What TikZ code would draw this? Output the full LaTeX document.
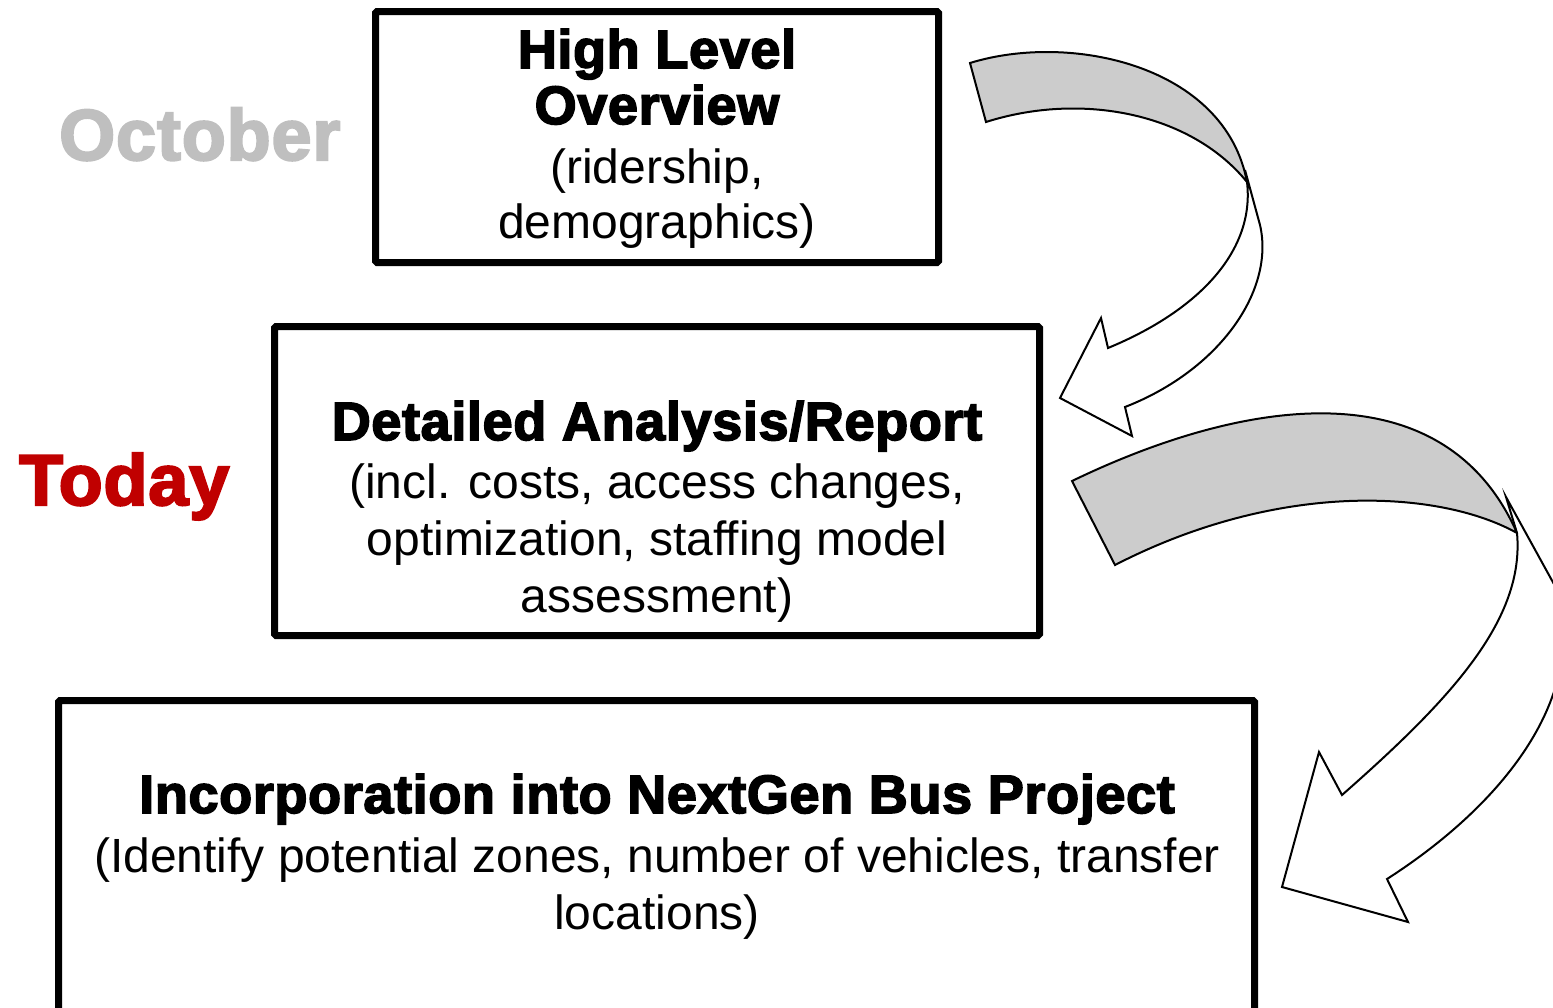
\documentclass[tikz,border=0pt]{standalone}
\usepackage{fontspec}
\setmainfont{Liberation Sans}
\newfontfamily\heavyfont{Liberation Sans Bold}[FakeBold=3, LetterSpace=1.2]
\definecolor{octgrey}{RGB}{191,191,191}
\definecolor{todayred}{RGB}{192,0,0}
\definecolor{bandgrey}{RGB}{204,204,204}

\tikzset{
  stagebox/.style={draw=black, line width=7pt, rounded corners=1.5pt, fill=white, inner sep=0pt},
  headline/.style={anchor=base, inner sep=0pt, font=\heavyfont\fontsize{54}{62}\selectfont},
  bodyline/.style={anchor=base, inner sep=0pt, font=\fontsize{48}{57.5}\selectfont},
  datelabel/.style={anchor=base west, inner sep=0pt, font=\heavyfont\fontsize{72}{82}\selectfont},
  ribbonback/.style={draw=black, line width=2pt, fill=bandgrey, line join=miter},
  ribbonfront/.style={draw=black, line width=2pt, fill=white, line join=miter}
}

\begin{document}
\begin{tikzpicture}[x=1pt, y=-1pt]
\useasboundingbox (0,0) rectangle (1553,1007);
\clip (0,0) rectangle (1553,1007);

% stage boxes
\node[stagebox, minimum width=563pt, minimum height=251pt] (overview) at (657,137) {};
\node[stagebox, minimum width=765pt, minimum height=309pt] (analysis) at (657,481) {};
\node[stagebox, minimum width=1196pt, minimum height=340pt] (nextgen) at (656.5,870.5) {};

% stage texts
\node[headline] (ovA) at (657,68) {High Level};
\node[headline] (ovB) at (657,124) {Overview};
\node[bodyline] (ovC) at (657,183) {(ridership,};
\node[bodyline] (ovD) at (657,238) {demographics)};

\node[headline] (anA) at (657,440) {Detailed Analysis/Report};
\node[bodyline] (anB) at (657,498) {(incl. costs, access changes,};
\node[bodyline] (anC) at (657,555) {optimization, staffing model};
\node[bodyline] (anD) at (657,612) {assessment)};

\node[headline] (ngA) at (657,813) {Incorporation into NextGen Bus Project};
\node[bodyline] (ngB) at (657,872) {(Identify potential zones, number of vehicles, transfer};
\node[bodyline] (ngC) at (657,929) {locations)};

% time labels
\node[datelabel, text=octgrey] (october) at (59,160) {October};
\node[datelabel, text=todayred] (today) at (19,505) {Today};

% curved arrow from the overview to the analysis
\path[ribbonback] (970,63) .. controls (1070,32) and (1225,65) .. (1247,182)
  .. controls (1190,112) and (1080,92) .. (986,122) -- cycle;
\path[ribbonfront] (1245,170) -- (1260,225)
  .. controls (1275,290) and (1220,370) .. (1125,407)
  -- (1132,436) -- (1060,398) -- (1101,318) -- (1108,348)
  .. controls (1200,310) and (1255,250) .. (1247,182) -- cycle;

% curved arrow from the analysis to the project
\path[ribbonback] (1072,481) .. controls (1250,395) and (1445,370) .. (1517,533)
  .. controls (1440,490) and (1280,480) .. (1115,565) -- cycle;
\path[ribbonfront] (1506,497) -- (1555,586)
  .. controls (1590,690) and (1510,800) .. (1387,879)
  -- (1408,922) -- (1282,887) -- (1319,752) -- (1342,795)
  .. controls (1450,700) and (1525,620) .. (1517,533) -- cycle;
\end{tikzpicture}
\end{document}
